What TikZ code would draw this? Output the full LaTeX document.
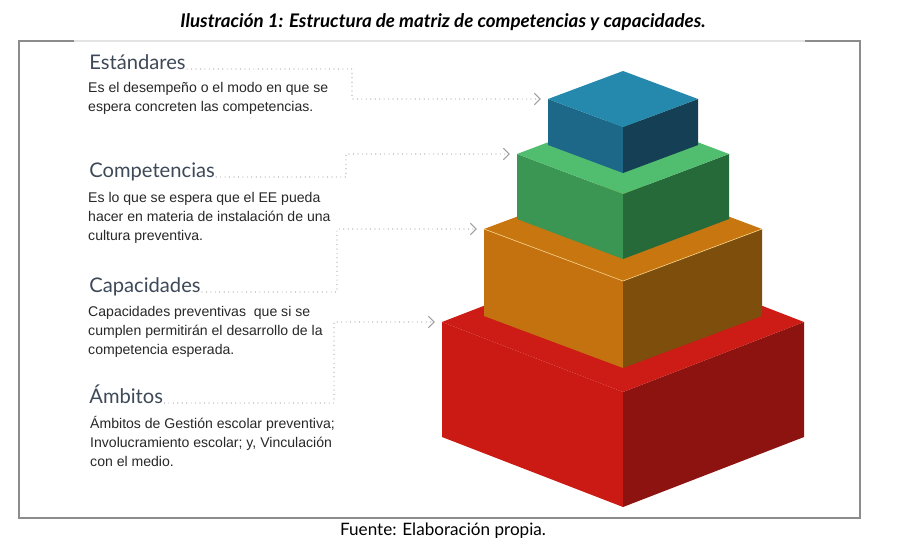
\documentclass[tikz,border=0pt]{standalone}
\usepackage{fontspec}
\setmainfont{Liberation Sans}
\newfontfamily\latofont{Lato}
\usepackage{tikz}
\usetikzlibrary{arrows.meta, positioning, calc}
\definecolor{headGray}{RGB}{62, 73, 88}
\definecolor{bodyGray}{RGB}{40, 40, 40}
\definecolor{dotGray}{RGB}{160, 160, 160}
\definecolor{frameGray}{RGB}{140, 140, 140}
\definecolor{redTop}{RGB}{205, 27, 21}
\definecolor{redLeft}{RGB}{203, 26, 20}
\definecolor{redRight}{RGB}{140, 19, 15}
\definecolor{orangeTop}{RGB}{200, 118, 15}
\definecolor{orangeLeft}{RGB}{196, 113, 15}
\definecolor{orangeRight}{RGB}{126, 78, 12}
\definecolor{orangeEdge}{RGB}{246, 214, 140}
\definecolor{greenTop}{RGB}{81, 189, 110}
\definecolor{greenLeft}{RGB}{58, 150, 82}
\definecolor{greenRight}{RGB}{39, 106, 58}
\definecolor{blueTop}{RGB}{37, 137, 173}
\definecolor{blueLeft}{RGB}{29, 104, 136}
\definecolor{blueRight}{RGB}{21, 63, 84}
\tikzset{
  heading/.style={anchor=base west, inner sep=1pt, text=headGray, font=\latofont\fontsize{17.2}{20}\selectfont},
  bodytext/.style={anchor=north west, inner sep=0pt, align=left, text=bodyGray, font=\fontsize{12}{16.2}\selectfont},
  conn/.style={dotGray, line width=1pt, line cap=round, dash pattern=on 0pt off 3.8pt,
    -{Straight Barb[length=5pt, width=10pt, line width=0.9pt]}, shorten >=6pt},
}

\begin{document}
\begin{tikzpicture}[x=0.03cm, y=-0.03cm]
      \useasboundingbox (0,0) rectangle (904,548);
      \fill[white] (0,0) rectangle (904,548);

      % caption and frame
      \node[anchor=base, inner sep=0pt, font=\latofont\bfseries\itshape\fontsize{16}{18}\selectfont] (caption) at (443,27) {Ilustración 1: Estructura de matriz de competencias y capacidades.};
      \draw[frameGray, line width=1.3pt] (19,41) rectangle (860,518);
      \draw[gray!22, line width=1.3pt] (74,41) -- (805,41);
      \node[anchor=base, inner sep=0pt, font=\latofont\fontsize{14.6}{16}\selectfont] (source) at (443,535) {Fuente: Elaboración propia.};

      % stacked boxes, bottom to top
      \foreach \nm/\w/\ly/\dy/\h in {red/181/322/70/115, orange/139/229/52/87, green/106/154/40/65, blue/75/99/28/46} {
        \coordinate (\nm L) at (623-\w,\ly);
        \fill[\nm Left] (623-\w,\ly) -- (623,\ly+\dy) -- (623,\ly+\dy+\h) -- (623-\w,\ly+\h) -- cycle;
        \fill[\nm Right] (623,\ly+\dy) -- (623+\w,\ly) -- (623+\w,\ly+\h) -- (623,\ly+\dy+\h) -- cycle;
        \fill[\nm Top] (623-\w,\ly) -- (623,\ly-\dy) -- (623+\w,\ly) -- (623,\ly+\dy) -- cycle;
      }
      \draw[orangeEdge, line width=0.5pt] (orangeL) -- (623,281) -- (762,229);

      % texts
      \node[heading] (est) at (88,69) {Estándares};
      \node[bodytext] (estText) at (88,82) {Es el desempeño o el modo en que se\\espera concreten las competencias.};

      \node[heading] (comp) at (88,177) {Competencias};
      \node[bodytext] (compText) at (88,192) {Es lo que se espera que el EE pueda\\hacer en materia de instalación de una\\cultura preventiva.};

      \node[heading] (cap) at (88,292) {Capacidades};
      \node[bodytext] (capText) at (88,306) {Capacidades preventivas\ \ que si se\\cumplen permitirán el desarrollo de la\\competencia esperada.};

      \node[heading] (amb) at (88,403) {Ámbitos};
      \node[bodytext] (ambText) at (90,416) {Ámbitos de Gestión escolar preventiva;\\Involucramiento escolar; y, Vinculación\\con el medio.};

      % connectors
      \draw[conn] (est.base east) -- (est.base east -| 352,0) |- (blueL);
      \draw[conn] (comp.base east) -- (comp.base east -| 346,0) |- (greenL);
      \draw[conn] (cap.base east) -- (cap.base east -| 337,0) |- (orangeL);
      \draw[conn] (amb.base east) -- (amb.base east -| 334,0) |- (redL);
    \end{tikzpicture}
\end{document}
